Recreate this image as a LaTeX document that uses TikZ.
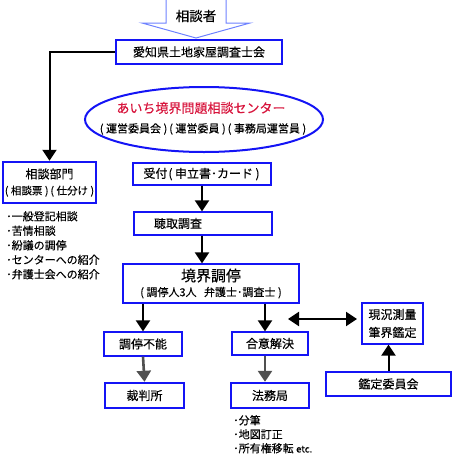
\documentclass[tikz,border=0pt]{standalone}
\usepackage{fontspec}
\setmainfont{Noto Sans CJK JP}[FakeBold=0.25]
\usetikzlibrary{arrows.meta,positioning,calc,shapes.geometric}
\definecolor{boxcol}{RGB}{20,20,245}
\definecolor{redcol}{RGB}{215,20,60}
\definecolor{headcol}{RGB}{110,130,255}
\definecolor{greycol}{RGB}{80,80,80}
\newcommand{\fsz}[1]{\fontsize{#1}{#1}\selectfont}
\newcommand{\lp}{\kern1pt(\kern2.5pt}
\newcommand{\rp}{\kern2.5pt)\kern1pt}

\begin{document}
\begin{tikzpicture}[x=1pt,y=-1pt,
  thinbox/.style={draw=boxcol,line width=1.2pt,inner sep=0pt,align=center,font=\fsz{12}},
  thickbox/.style={thinbox,line width=2.4pt},
  arr/.style={line width=2pt,-{Triangle[length=11pt,width=14pt]}},
  garr/.style={arr,greycol,line width=2.6pt}]
  \useasboundingbox (0,0) rectangle (452,458);
  % incoming block arrow
  \draw[headcol,line width=1pt,fill=white]
     (166,0)--(166,23)--(142,23)--(196,38)--(250,23)--(226,23)--(226,0);
  \node[font=\fsz{13.5}] (visitor) at (196,16) {相談者};
  \node[thickbox,minimum width=166pt,minimum height=24pt] (aichi) at (199,52) {愛知県土地家屋調査士会};
  \node[ellipse,draw=boxcol,line width=2pt,minimum width=238pt,minimum height=65pt,inner sep=0pt] (center) at (204,119.5) {};
  \node[text=redcol,font=\fsz{13}] (ctitle) at (201,108) {あいち境界問題相談センター};
  \node[font=\fsz{11}] (cmembers) at (203,129) {\lp 運営委員会\rp\lp 運営委員\rp\lp 事務局運営員\rp};
  % consultation branch
  \node[thickbox,minimum width=93pt,minimum height=41pt] (soudan) at (49.5,182.5)
     {相談部門\\[4pt]{\fsz{10.5}\lp 相談票\rp\lp 仕分け\rp}};
  \node[anchor=north west,align=left,inner sep=0pt,font=\fsz{11},
     execute at begin node={\baselineskip=14.5pt}] (soudanlist) at (6,211)
     {･一般登記相談\\･苦情相談\\･紛議の調停\\･センターへの紹介\\･弁護士会への紹介};
  % main flow
  \node[thinbox,minimum width=138pt,minimum height=22pt] (uketsuke) at (202,174) {受付\lp 申立書･カード\rp};
  \node[thinbox,minimum height=23pt,text width=98pt,inner xsep=20pt,align=left] (choshu) at (203,223.5) {聴取調査};
  \node[thinbox,minimum width=176pt,minimum height=39pt] (kyokai) at (211,283.5)
     {{\fsz{15}境界調停}\\[3pt]{\fsz{11}\lp 調停人3人\ \ \ 弁護士･調査士\rp}};
  \node[thinbox,minimum width=78pt,minimum height=24pt] (funou) at (143,344) {調停不能};
  \node[thickbox,minimum width=79pt,minimum height=25pt] (saiban) at (144.5,395.5) {裁判所};
  \node[thinbox,minimum width=76pt,minimum height=23pt] (goi) at (270,343.5) {合意解決};
  \node[thickbox,minimum width=78pt,minimum height=25pt] (homu) at (270,395.5) {法務局};
  \node[anchor=north west,align=left,inner sep=0pt,font=\fsz{11},
     execute at begin node={\baselineskip=14pt}] (homulist) at (233,415)
     {･分筆\\･地図訂正\\･所有権移転 {\fsz{9.5}etc.}};
  \node[thinbox,minimum width=61pt,minimum height=41pt,
     execute at begin node={\baselineskip=18pt}] (genkyo) at (392.5,323.5)
     {現況測量\\筆界鑑定};
  \node[thickbox,minimum width=125pt,minimum height=24pt] (kantei) at (388.5,384) {鑑定委員会};
  \coordinate (dblL) at (288,319);
  \coordinate (dblR) at (357,319);
  % connectors
  \draw[arr] (aichi.west) -| (soudan.north);
  \draw[arr] (uketsuke.south) -- (uketsuke.south |- choshu.north);
  \draw[arr] (choshu.south -| uketsuke.south) -- (uketsuke.south |- kyokai.north);
  \draw[arr] (funou.north |- kyokai.south) -- (funou.north);
  \draw[arr] ([xshift=-5pt]goi.north |- kyokai.south) -- ([xshift=-5pt]goi.north);
  \draw[garr] (funou.south) -- (saiban.north);
  \draw[garr] ([xshift=-5pt]goi.south) -- ([xshift=-5pt]homu.north);
  \draw[line width=2pt,{Triangle[length=11pt,width=14pt]}-{Triangle[length=11pt,width=14pt]}] (dblL) -- (dblR);
  \draw[arr] (kantei.north) -- (kantei.north |- genkyo.south);
\end{tikzpicture}
\end{document}
